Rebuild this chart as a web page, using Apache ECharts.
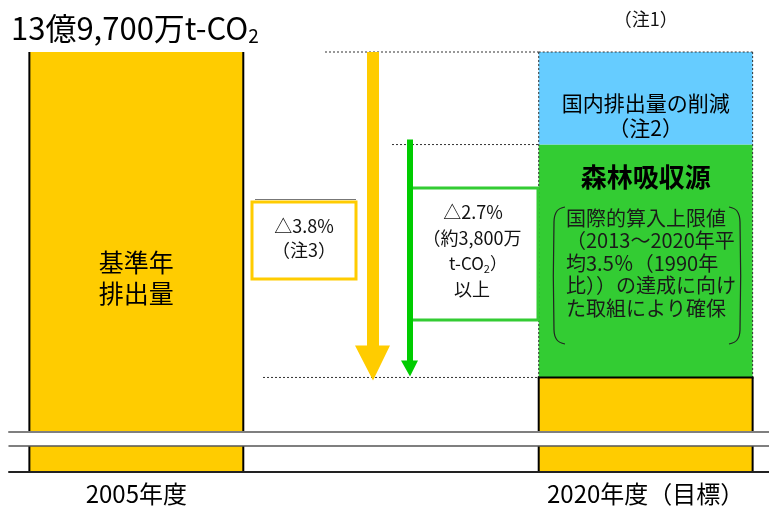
<!DOCTYPE html>
<html>
<head>
<meta charset="utf-8">
<script src="https://cdn.jsdelivr.net/npm/echarts@6/dist/echarts.min.js"></script>
<style>
  html, body { margin: 0; padding: 0; background: #fff; }
  #main { width: 769px; height: 509px; }
</style>
</head>
<body>
<div id="main"></div>
<script>
// 単位：百万t-CO2
var categories = ['2005年度', '', '2020年度（目標）'];
var emissions = [1397, null, 1343.9];
var forestSink = [null, null, 38];
var domesticCut = [null, null, 15.1];
var upperRange = [1335, 1397];
var lowerRange = [0, 100];

var FONT = '"Noto Sans CJK JP", "Noto Sans", sans-serif';
var YELLOW = '#FFCC00', GREEN = '#33CC33', BLUE = '#66CCFF';

var chart = echarts.init(document.getElementById('main'));

function barData() {
  var out = [];
  categories.forEach(function (c, i) {
    if (emissions[i] == null) return;
    out.push([i, emissions[i], forestSink[i] == null ? 0 : forestSink[i], domesticCut[i] == null ? 0 : domesticCut[i]]);
  });
  return out;
}

function renderBar(params, api) {
  var cs = params.coordSys;
  var idx = api.value(0);
  var w = api.size([1, 0])[0] * 0.84;
  var cx = api.coord([idx, api.value(1)])[0];
  var x0 = cx - w / 2, x1 = cx + w / 2;
  var top = cs.y, bot = cs.y + cs.height;
  function py(v) {
    return Math.min(bot, Math.max(top, api.coord([idx, v])[1]));
  }
  var e = api.value(1), f = api.value(2), d = api.value(3);
  var yE = py(e);
  var kids = [
    { type: 'rect', shape: { x: x0, y: yE, width: w, height: bot - yE }, style: { fill: YELLOW } },
    { type: 'line', shape: { x1: x0, y1: yE, x2: x0, y2: bot }, style: { stroke: '#000', lineWidth: 2 } },
    { type: 'line', shape: { x1: x1, y1: yE, x2: x1, y2: bot }, style: { stroke: '#000', lineWidth: 2 } }
  ];
  if (f > 0 && yE > top) {
    var yF = py(e + f), yD = py(e + f + d);
    var dot = { stroke: '#333', lineWidth: 1, lineDash: [2, 2] };
    kids.push(
      { type: 'rect', shape: { x: x0, y: yF, width: w, height: yE - yF }, style: { fill: GREEN } },
      { type: 'rect', shape: { x: x0, y: yD, width: w, height: yF - yD }, style: { fill: BLUE } },
      { type: 'line', shape: { x1: x0, y1: yD, x2: x0, y2: yE }, style: dot },
      { type: 'line', shape: { x1: x1, y1: yD, x2: x1, y2: yE }, style: dot },
      { type: 'line', shape: { x1: x0, y1: yD, x2: x1, y2: yD }, style: dot },
      { type: 'line', shape: { x1: x0 - 1, y1: yE, x2: x1 + 1, y2: yE }, style: { stroke: '#000', lineWidth: 2 } }
    );
  }
  return { type: 'group', children: kids };
}

var hidden = { show: false };
chart.setOption({
  animation: false,
  grid: [
    { left: 9, width: 764, top: 52, height: 380, outerBoundsMode: 'none', containLabel: false },
    { left: 9, width: 764, top: 446, height: 26, outerBoundsMode: 'none', containLabel: false }
  ],
  xAxis: [
    { gridIndex: 0, type: 'category', data: categories, z: 10,
      axisLine: { onZero: false, lineStyle: { color: '#7f7f7f', width: 2 } },
      axisTick: hidden, axisLabel: hidden, splitLine: hidden },
    { gridIndex: 1, type: 'category', data: categories, position: 'bottom', z: 10,
      axisLine: { onZero: false, lineStyle: { color: '#222', width: 2 } },
      axisTick: hidden, splitLine: hidden,
      axisLabel: { fontSize: 24, color: '#000', margin: 10, fontFamily: FONT } },
    { gridIndex: 1, type: 'category', data: categories, position: 'top', z: 10,
      axisLine: { onZero: false, lineStyle: { color: '#555', width: 1.5 } },
      axisTick: hidden, axisLabel: hidden, splitLine: hidden }
  ],
  yAxis: [
    { gridIndex: 0, type: 'value', min: upperRange[0], max: upperRange[1], show: false },
    { gridIndex: 1, type: 'value', min: lowerRange[0], max: lowerRange[1], show: false }
  ],
  series: [
    { type: 'custom', xAxisIndex: 0, yAxisIndex: 0, renderItem: renderBar, data: barData() },
    { type: 'custom', xAxisIndex: 1, yAxisIndex: 1, renderItem: renderBar, data: barData() }
  ]
});

// 注記（位置は軸から換算）
function yAt(v) { return chart.convertToPixel({ yAxisIndex: 0 }, v); }
function xAt(i) { return chart.convertToPixel({ xAxisIndex: 0 }, i); }

var band = xAt(1) - xAt(0);
var cx2020 = xAt(2);
var barLeft2020 = cx2020 - band * 0.42;
var yBase = yAt(emissions[0]);
var yTarget = yAt(emissions[2]);
var yForest = yAt(emissions[2] + forestSink[2]);

function txt(s, x, y, size, extra) {
  var st = { text: s, fill: '#111', fontSize: size, fontFamily: FONT, align: 'center', verticalAlign: 'middle' };
  for (var k in extra) st[k] = extra[k];
  return { type: 'text', x: x, y: y, z: 20, style: st };
}
function dotted(xa, xb, y) {
  return { type: 'line', z: 15, shape: { x1: xa, y1: y, x2: xb, y2: y }, style: { stroke: '#333', lineWidth: 1, lineDash: [2, 2] } };
}
var co2Rich = {
  a: { fontSize: 17, fontFamily: FONT, fill: '#111' },
  s: { fontSize: 11, fontFamily: FONT, fill: '#111', padding: [9, 0, 0, 0] }
};

var gx = [
  // タイトル
  { type: 'text', x: 11, y: 28, z: 20, style: {
      text: '{a|13億9,700万t-CO}{s|2}', verticalAlign: 'middle',
      rich: {
        a: { fontSize: 31, fontFamily: FONT, fill: '#000' },
        s: { fontSize: 19, fontFamily: FONT, fill: '#000', padding: [15, 0, 0, 0] }
      } } },
  txt('（注1）', cx2020, 19, 18),

  // 点線
  dotted(325, barLeft2020, yBase),
  dotted(392, barLeft2020, yForest),
  dotted(263, barLeft2020, yTarget),

  // △3.8% 枠
  { type: 'line', z: 15, shape: { x1: 255, y1: 199.5, x2: 356, y2: 199.5 }, style: { stroke: '#777', lineWidth: 1 } },
  { type: 'rect', z: 15, shape: { x: 252, y: 202, width: 104, height: 77 }, style: { fill: '#fff', stroke: YELLOW, lineWidth: 3 } },
  txt('△3.8%', 304, 226, 18),
  txt('（注3）', 304, 250, 18),

  // △2.7% 枠
  { type: 'rect', z: 15, shape: { x: 410, y: 188, width: 128, height: 132 }, style: { fill: '#fff', stroke: GREEN, lineWidth: 3 } },
  txt('△2.7%', 473, 212, 18),
  txt('（約3,800万', 472, 238, 18),
  { type: 'text', x: 478, y: 264, z: 20, style: { text: '{a|t-CO}{s|2}{a|）}', align: 'center', verticalAlign: 'middle', rich: co2Rich } },
  txt('以上', 472, 289, 18),

  // 矢印
  { type: 'polygon', z: 16, shape: { points: [
      [367, yBase], [379, yBase], [379, yTarget - 32], [390, yTarget - 32],
      [373, yTarget + 3], [355, yTarget - 32], [367, yTarget - 32]] },
    style: { fill: YELLOW } },
  { type: 'polygon', z: 16, shape: { points: [
      [407, yForest - 5], [413, yForest - 5], [413, yTarget - 17], [418, yTarget - 17],
      [410, yTarget - 1], [401, yTarget - 17], [407, yTarget - 17]] },
    style: { fill: '#00CC00' } },

  // 棒の中の文字
  txt('基準年\n排出量', xAt(0), 278, 25, { lineHeight: 31, fill: '#000' }),
  txt('国内排出量の削減', cx2020, 103, 21, { fill: '#000' }),
  txt('（注2）', cx2020, 128, 21, { fill: '#000' }),
  txt('森林吸収源', cx2020, 177, 26, { fontWeight: 'bold', fill: '#000' }),

  // 括弧
  { type: 'polyline', z: 18, shape: { smooth: 0.4, points: [[565, 207], [557, 211], [554, 222], [554, 330], [557, 340], [565, 344]] },
    style: { fill: 'none', stroke: '#222', lineWidth: 1.2 } },
  { type: 'polyline', z: 18, shape: { smooth: 0.4, points: [[729, 207], [737, 211], [740, 222], [740, 330], [737, 340], [729, 344]] },
    style: { fill: 'none', stroke: '#222', lineWidth: 1.2 } }
];

var noteLines = ['国際的算入上限値', '（2013～2020年平', '均3.5％（1990年', '比））の達成に向け', 'た取組により確保'];
noteLines.forEach(function (s, i) {
  gx.push(txt(s, 566, 218 + i * 22.5, 20, { align: 'left', fill: '#1a1a1a' }));
});

chart.setOption({ graphic: gx });
</script>
</body>
</html>
